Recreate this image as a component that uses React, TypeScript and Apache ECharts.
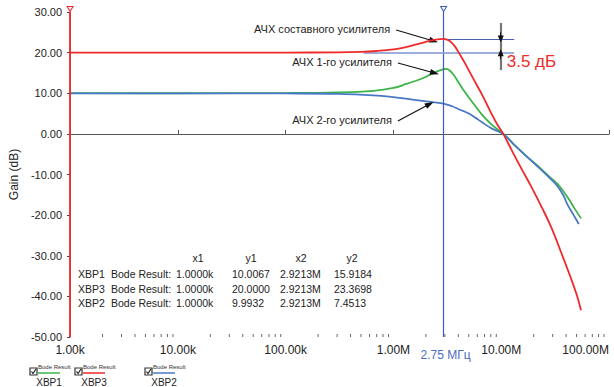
import React, { useEffect, useRef } from "react";
import * as echarts from "echarts";

const FONT = "'Liberation Sans', Arial, Helvetica, sans-serif";

const xTickLabels = ["1.00k", "10.00k", "100.00k", "1.00M", "10.00M", "100.00M"];
const decadeStarts = [1e3, 1e4, 1e5, 1e6, 1e7];

// XBP1 — АЧХ 1-го усилителя (green)
const xbp1Freq = [1e3, 1e4, 1e5, 3e5, 6.5e5, 1e6, 1.32e6, 1.87e6, 2.31e6, 2.92e6, 3.1e6, 3.55e6, 4.05e6, 4.6e6, 5.3e6, 6.6e6, 8.2e6, 1.045e7, 1.3e7, 1.7e7, 2.34e7, 2.9e7, 3.33e7, 4.1e7, 4.8e7, 5.5e7];
const xbp1Gain = [10.0067, 10.0, 10.05, 10.2, 10.6, 11.3, 12.3, 13.7, 14.9, 15.92, 16.0, 14.8, 12.5, 10.3, 8.1, 4.8, 2.2, 0.0, -2.5, -5.4, -8.6, -10.9, -12.3, -15.5, -18.4, -20.8];

// XBP2 — АЧХ 2-го усилителя (blue)
const xbp2Freq = [1e3, 1e4, 1e5, 3e5, 6.5e5, 1e6, 1.5e6, 2.31e6, 2.92e6, 3.5e6, 4.1e6, 5.0e6, 5.75e6, 6.6e6, 8.2e6, 1.045e7, 1.3e7, 1.7e7, 2.34e7, 2.9e7, 3.33e7, 3.8e7, 4.1e7, 4.7e7, 5.25e7];
const xbp2Gain = [9.9932, 9.99, 9.95, 9.85, 9.5, 9.05, 8.45, 7.8, 7.4513, 6.8, 6.0, 5.0, 4.0, 2.9, 1.3, 0.0, -2.5, -5.4, -8.8, -11.2, -12.9, -15.3, -17.3, -20.0, -22.2];

// XBP3 — АЧХ составного усилителя (red)
const xbp3Freq = [1e3, 1e4, 1e5, 3e5, 5e5, 7e5, 1e6, 1.3e6, 1.6e6, 2.0e6, 2.4e6, 2.92e6, 3.3e6, 3.7e6, 4.1e6, 4.7e6, 5.5e6, 6.6e6, 8.0e6, 9.2e6, 1.045e7, 1.25e7, 1.5e7, 1.9e7, 2.4e7, 2.9e7, 3.6e7, 4.4e7, 5.0e7, 5.5e7];
const xbp3Gain = [20.0, 20.0, 20.02, 20.08, 20.2, 20.4, 20.8, 21.35, 21.95, 22.65, 23.15, 23.3698, 22.9, 21.6, 19.7, 17.0, 13.6, 9.8, 5.3, 2.3, 0.0, -4.0, -8.0, -13.0, -18.3, -22.9, -29.2, -35.3, -39.5, -43.4];

const cursor1Freq = 1e3;
const cursor2Freq = 2.9213e6;
const peakGain = 23.3698;
const baseGain = 20.0;
const refLineStart = 5.3e5;
const refLineEnd = 1.32e7;
const dimFreq = 9.9e6;
const dimTop = 27.3;
const dimBottom = 15.7;

const tableHeaders = ["x1", "y1", "x2", "y2"];
const tableRows = [
  ["XBP1", "Bode Result:", "1.0000k", "10.0067", "2.9213M", "15.9184"],
  ["XBP3", "Bode Result:", "1.0000k", "20.0000", "2.9213M", "23.3698"],
  ["XBP2", "Bode Result:", "1.0000k", "9.9932", "2.9213M", "7.4513"],
];

const annotations = [
  { text: "АЧХ составного усилителя", from: [1.06e6, 25.57], to: [2.36e6, 22.86] },
  { text: "АЧХ 1-го усилителя", from: [1.1e6, 17.44], to: [2.41e6, 14.98] },
  { text: "АЧХ 2-го усилителя", from: [1.1e6, 3.15], to: [2.17e6, 7.34] },
];

const legendItems = [
  { name: "XBP1", color: "#3cb44a" },
  { name: "XBP3", color: "#ee2a2a" },
  { name: "XBP2", color: "#4a78c8" },
];

const GREEN = "#3cb44a";
const RED = "#ee2a2a";
const BLUE = "#4a78c8";
const CURSOR_BLUE = "#3d5cb8";

function zip(f: number[], g: number[]) {
  return f.map((v, i) => [v, g[i]]);
}

export default function App() {
  const ref = useRef<HTMLDivElement>(null);
  useEffect(() => {
    if (!ref.current) return;
    const chart = echarts.init(ref.current, undefined, { renderer: "svg" });
    const minorTicks: number[][] = [];
    decadeStarts.forEach((d) => {
      for (let m = 2; m <= 9; m++) minorTicks.push([d * m]);
    });

    const option: any = {
      animation: false,
      backgroundColor: "#ffffff",
      textStyle: { fontFamily: FONT },
      grid: { left: 62, right: 5, top: 12, bottom: 50, containLabel: false },
      xAxis: {
        type: "log",
        logBase: 10,
        min: 1e3,
        max: 1e8,
        axisLine: { show: true, lineStyle: { color: "#555", width: 1 } },
        axisTick: { show: true, inside: true, length: 4, lineStyle: { color: "#555" } },
        splitLine: { show: false },
        axisLabel: {
          fontSize: 12,
          color: "#222",
          fontFamily: FONT,
          margin: 7,
          alignMaxLabel: "right",
          formatter: (v: number) => {
            const i = Math.round(Math.log10(v)) - 3;
            return xTickLabels[i] ?? "";
          },
        },
      },
      yAxis: {
        type: "value",
        min: -50,
        max: 30,
        interval: 10,
        name: "Gain (dB)",
        nameLocation: "middle",
        nameGap: 42,
        nameTextStyle: { fontSize: 12, color: "#222", fontFamily: FONT },
        axisLine: { show: true, lineStyle: { color: "#888" } },
        axisTick: { show: true, inside: false, length: 3, lineStyle: { color: "#444" } },
        splitLine: { show: false },
        axisLabel: {
          fontSize: 11,
          color: "#222",
          fontFamily: FONT,
          margin: 8,
          formatter: (v: number) => v.toFixed(2),
        },
      },
      series: [
        {
          type: "custom",
          name: "minorTicks",
          silent: true,
          data: minorTicks,
          encode: { x: 0 },
          renderItem: (params: any, api: any) => {
            const p = api.coord([api.value(0), -50]);
            return {
              type: "line",
              shape: { x1: p[0], y1: p[1], x2: p[0], y2: p[1] - 3 },
              style: { stroke: "#666", lineWidth: 1 },
            };
          },
          z: 1,
        },
        {
          type: "line",
          name: "XBP1",
          data: zip(xbp1Freq, xbp1Gain),
          showSymbol: false,
          smooth: 0.4,
          lineStyle: { color: GREEN, width: 1.8 },
          itemStyle: { color: GREEN },
          z: 3,
        },
        {
          type: "line",
          name: "XBP2",
          data: zip(xbp2Freq, xbp2Gain),
          showSymbol: false,
          smooth: 0.4,
          lineStyle: { color: BLUE, width: 1.8 },
          itemStyle: { color: BLUE },
          z: 4,
        },
        {
          type: "line",
          name: "XBP3",
          data: zip(xbp3Freq, xbp3Gain),
          showSymbol: false,
          smooth: 0.4,
          lineStyle: { color: RED, width: 1.8 },
          itemStyle: { color: RED },
          z: 5,
          markLine: {
            silent: true,
            symbol: "none",
            label: { show: false },
            animation: false,
            data: [
              { xAxis: cursor1Freq, lineStyle: { color: RED, width: 1.8, type: "solid" } },
              { xAxis: cursor2Freq, lineStyle: { color: CURSOR_BLUE, width: 1.2, type: "solid" } },
              [
                { coord: [cursor2Freq, peakGain], lineStyle: { color: "#4a5fb0", width: 1.2, type: "solid" } },
                { coord: [refLineEnd, peakGain] },
              ],
              [
                { coord: [refLineStart, baseGain], lineStyle: { color: "#8d9fd6", width: 2, type: "solid", opacity: 0.85 } },
                { coord: [refLineEnd, baseGain] },
              ],
              [
                { coord: [dimFreq, dimTop], lineStyle: { color: "#777", width: 2.2, type: "solid" } },
                { coord: [dimFreq, dimBottom] },
              ],
              [
                { coord: [dimFreq, peakGain + 1.6], symbol: "none", lineStyle: { color: "#111", width: 1, type: "solid" } },
                { coord: [dimFreq, peakGain], symbol: "triangle", symbolSize: [6, 7] },
              ],
              [
                { coord: [dimFreq, baseGain - 1.6], symbol: "none", lineStyle: { color: "#111", width: 1, type: "solid" } },
                { coord: [dimFreq, baseGain], symbol: "triangle", symbolSize: [6, 7] },
              ],
              ...annotations.map((a) => [
                { coord: a.from, symbol: "none", lineStyle: { color: "#111", width: 1.2, type: "solid" } },
                { coord: a.to, symbol: "triangle", symbolSize: [6, 9] },
              ]),
            ],
          },
          markPoint: {
            silent: true,
            label: { show: false },
            data: [
              {
                coord: [cursor1Freq, 30],
                symbol: "triangle",
                symbolRotate: 180,
                symbolSize: [6, 5],
                symbolOffset: [0, -3],
                itemStyle: { color: "#fff", borderColor: RED, borderWidth: 1 },
              },
              {
                coord: [cursor2Freq, 30],
                symbol: "triangle",
                symbolRotate: 180,
                symbolSize: [6, 5],
                symbolOffset: [0, -3],
                itemStyle: { color: "#fff", borderColor: CURSOR_BLUE, borderWidth: 1 },
              },
            ],
          },
        },
      ],
    };

    chart.setOption(option);

    const toPx = (c: number[]) => chart.convertToPixel({ gridIndex: 0 }, c) as number[];
    const graphics: any[] = [];
    annotations.forEach((a) => {
      const p = toPx(a.from);
      graphics.push({
        type: "text",
        x: p[0] - 6,
        y: p[1] - 1,
        style: { text: a.text, fontSize: 11, fontFamily: FONT, fill: "#222", textAlign: "right", textVerticalAlign: "middle" },
      });
    });
    const dimMid = toPx([dimFreq, (peakGain + baseGain) / 2]);
    graphics.push({
      type: "text",
      x: dimMid[0] + 6,
      y: dimMid[1] + 16,
      style: { text: "3.5 дБ", fontSize: 17, fontFamily: FONT, fill: RED, textAlign: "left", textVerticalAlign: "middle" },
    });
    const cur = toPx([cursor2Freq, -50]);
    graphics.push({
      type: "text",
      x: cur[0] + 2,
      y: cur[1] + 18,
      style: { text: "2.75 МГц", fontSize: 12, fontFamily: FONT, fill: "#4a6cc0", textAlign: "center", textVerticalAlign: "middle" },
    });

    // Cursor table
    const headerX = [198, 251, 301, 352];
    tableHeaders.forEach((h, i) => {
      graphics.push({
        type: "text",
        x: headerX[i],
        y: 258,
        style: { text: h, fontSize: 10.5, fontFamily: FONT, fill: "#222", textAlign: "center", textVerticalAlign: "middle" },
      });
    });
    const colX = [78, 111, 176, 232, 280, 334];
    tableRows.forEach((row, r) => {
      row.forEach((cell, c) => {
        graphics.push({
          type: "text",
          x: colX[c],
          y: 274 + r * 14.5,
          style: { text: cell, fontSize: 10.5, fontFamily: FONT, fill: "#222", textAlign: "left", textVerticalAlign: "middle" },
        });
      });
    });

    // Bottom legend
    const legendX = [30, 75, 145];
    legendItems.forEach((it, i) => {
      const x = legendX[i];
      graphics.push({
        type: "group",
        children: [
          { type: "rect", shape: { x: x, y: 368, width: 7, height: 7 }, style: { fill: "#fff", stroke: "#333", lineWidth: 1.2 } },
          { type: "polyline", shape: { points: [[x + 1.5, 371.5], [x + 3, 373.5], [x + 6, 369]] }, style: { stroke: "#222", lineWidth: 1.2, fill: null } },
          { type: "text", x: x + 8, y: 367, style: { text: "Bode Result", fontSize: 6, fontFamily: FONT, fill: "#333", textAlign: "left", textVerticalAlign: "middle" } },
          { type: "line", shape: { x1: x + 8, y1: 373, x2: x + 30, y2: 373 }, style: { stroke: it.color, lineWidth: 1.5 } },
          { type: "text", x: x + 19, y: 382, style: { text: it.name, fontSize: 10, fontFamily: FONT, fill: "#222", textAlign: "center", textVerticalAlign: "middle" } },
        ],
      });
    });

    chart.setOption({ graphic: { elements: graphics } });

    return () => chart.dispose();
  }, []);

  return (
    <div
      ref={ref}
      style={{ position: "fixed", left: 0, top: 0, width: 614, height: 387, background: "#fff" }}
    />
  );
}
